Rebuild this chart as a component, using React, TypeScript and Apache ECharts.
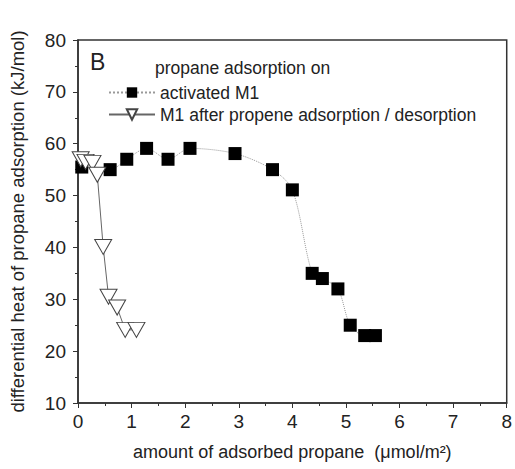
import React, { useEffect, useRef } from "react";
import * as echarts from "echarts";

const activatedX = [0.07, 0.6, 0.91, 1.28, 1.68, 2.09, 2.93, 3.63, 4.0, 4.37, 4.56, 4.85, 5.08, 5.35, 5.55];
const activatedY = [55.5, 55.0, 57.0, 59.1, 57.0, 59.1, 58.1, 55.0, 51.1, 35.0, 34.0, 32.0, 25.0, 23.0, 23.0];

const afterX = [0.05, 0.14, 0.27, 0.36, 0.47, 0.57, 0.73, 0.88, 1.09];
const afterY = [57.0, 56.5, 56.3, 54.0, 40.1, 30.5, 28.4, 24.1, 24.1];

const xTicks = { min: 0, max: 8, interval: 1 };
const yTicks = { min: 10, max: 80, interval: 10 };

const seriesNames = ["activated M1", "M1 after propene adsorption / desorption"];

export default function App() {
  const ref = useRef<HTMLDivElement>(null);
  useEffect(() => {
    const chart = echarts.init(ref.current!, null, { renderer: "svg" });
    const font = "Liberation Sans, Arial, sans-serif";
    const axisColor = "#333";
    chart.setOption({
      animation: false,
      grid: {
        left: 77,
        right: 6,
        top: 40,
        bottom: 66,
        show: true,
        borderColor: axisColor,
        borderWidth: 1.5,
        backgroundColor: "transparent",
      },
      legend: {
        data: seriesNames,
        orient: "vertical",
        left: 103,
        top: 78,
        itemWidth: 46,
        itemHeight: 13,
        itemGap: 3,
        textStyle: { fontFamily: font, fontSize: 17.5, color: "#222", lineHeight: 19 },
      },
      graphic: [
        {
          type: "text",
          left: 90,
          top: 50,
          style: { text: "B", font: `23px ${font}`, fill: "#222" },
        },
        {
          type: "text",
          left: 155,
          top: 59,
          style: { text: "propane adsorption on", font: `17.5px ${font}`, fill: "#222" },
        },
      ],
      xAxis: {
        type: "value",
        min: xTicks.min,
        max: xTicks.max,
        interval: xTicks.interval,
        name: "amount of adsorbed propane  (μmol/m²)",
        nameLocation: "middle",
        nameGap: 40,
        nameTextStyle: { fontFamily: font, fontSize: 18, color: "#222" },
        axisLine: { lineStyle: { color: axisColor, width: 1.5 } },
        axisTick: { show: true, inside: false, length: 5, lineStyle: { color: axisColor } },
        minorTick: { show: true, splitNumber: 2, length: 3, lineStyle: { color: axisColor } },
        axisLabel: { fontFamily: font, fontSize: 19, color: "#222", margin: 9 },
        splitLine: { show: false },
      },
      yAxis: {
        type: "value",
        min: yTicks.min,
        max: yTicks.max,
        interval: yTicks.interval,
        name: "differential heat of propane adsorption (kJ/mol)",
        nameLocation: "middle",
        nameGap: 51,
        nameTextStyle: { fontFamily: font, fontSize: 18.5, color: "#222" },
        axisLine: { lineStyle: { color: axisColor, width: 1.5 } },
        axisTick: { show: true, inside: false, length: 5, lineStyle: { color: axisColor } },
        minorTick: { show: true, splitNumber: 2, length: 3, lineStyle: { color: axisColor } },
        axisLabel: { fontFamily: font, fontSize: 19, color: "#222", margin: 12 },
        splitLine: { show: false },
      },
      series: [
        {
          name: seriesNames[0],
          type: "line",
          data: activatedX.map((x, i) => [x, activatedY[i]]),
          smooth: 0.3,
          symbol: "rect",
          symbolSize: 13,
          itemStyle: { color: "#000", borderWidth: 0 },
          lineStyle: { color: "#999", width: 1, type: "dotted" },
          z: 2,
        },
        {
          name: seriesNames[1],
          type: "line",
          data: afterX.map((x, i) => [x, afterY[i]]),
          symbol: "triangle",
          symbolRotate: 180,
          symbolSize: [17, 15],
          itemStyle: { color: "#fff", borderColor: "#444", borderWidth: 1 },
          lineStyle: { color: "#666", width: 1 },
          z: 3,
        },
      ],
    });
    return () => chart.dispose();
  }, []);
  return <div ref={ref} style={{ width: 515, height: 469, position: "absolute", left: 0, top: 0 }} />;
}
